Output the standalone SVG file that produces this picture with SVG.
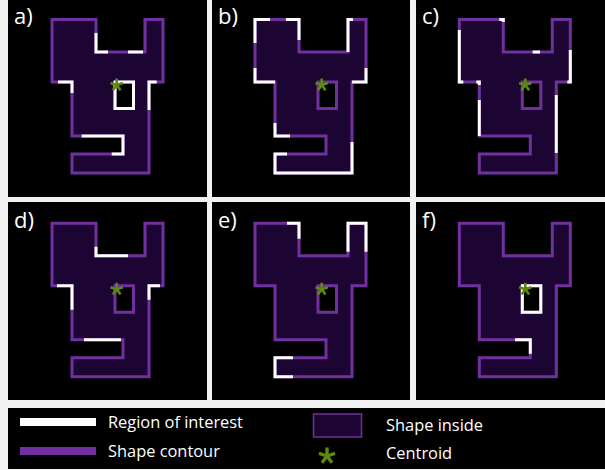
<svg xmlns="http://www.w3.org/2000/svg" xmlns:xlink="http://www.w3.org/1999/xlink" width="605" height="470" viewBox="0 0 605 470">
<style>
.bg{fill:#f2f2f2}
.panel{fill:#000}
.shape{fill:#1d0533;stroke:#7030a0;stroke-width:3;stroke-linejoin:miter}
.roi{fill:none;stroke:#fff;stroke-width:3;stroke-linejoin:miter}
.star{fill:none;stroke:#5c8a0e;stroke-width:2.6}
.lbl{fill:#fff;font-family:"Open Sans","Liberation Sans",sans-serif;font-size:22px}
.leg{fill:#fff;font-family:"Open Sans","Liberation Sans",sans-serif;font-size:16.4px}
</style>
<defs>
<path id="yshape" fill-rule="evenodd" d="M52,19.5 H96 V52 H145 V19.5 H163 V82 H149 V173 H72 V154 H123 V136 H72 V82 H52 Z M115,82 H133.5 V108.5 H115 Z"/>
<path id="star" class="star" d="M0,0 L0,-6.5 M0,0 L6.18,-2.01 M0,0 L-6.18,-2.01 M0,0 L3.82,5.26 M0,0 L-3.82,5.26"/>
<path id="hole" d="M115,82 H133.5 V108.5 H115 Z"/>
</defs>
<rect class="bg" x="0" y="0" width="605" height="470"/>

<g id="panel-a">
<rect class="panel" x="8" y="0" width="199" height="197"/>
<text class="lbl" x="14" y="24">a)</text>
<use href="#yshape" class="shape"/>
<path class="roi" d="M96,33 V52 H108 M128,52 H143 M58,82 H72 V93 M149,110 V82 H156.7 M81.7,136 H123 V154 H111.7"/>
<use href="#hole" class="roi"/>
<use href="#star" x="116.7" y="85"/>
</g>

<g id="panel-b">
<rect class="panel" x="212" y="0" width="198" height="197"/>
<text class="lbl" x="218" y="24">b)</text>
<g transform="translate(203,0)">
<use href="#yshape" class="shape"/>
<path class="roi" d="M52,43 V19.5 H67 M83,19.5 H96 V40 M145,52 V19.5 H150 M163,68 V82 H149 M149,142 V173 H72 V154 H84 M87,136 H72 V123 M52,68 V82 H72"/>
<use href="#star" x="118.7" y="85"/>
</g>
</g>

<g id="panel-c">
<rect class="panel" x="416" y="0" width="189" height="197"/>
<text class="lbl" x="422" y="24">c)</text>
<g transform="translate(407.3,0)">
<use href="#yshape" class="shape"/>
<path class="roi" d="M92,19.5 H96 V22 M125.4,52 H132.7 M163,50 V82 H160 M52,30 V82 H56 M69,82 H72 V85 M72,100 V136 M149,95 V153"/>
<use href="#star" x="118" y="85"/>
</g>
</g>

<g id="panel-d">
<rect class="panel" x="8" y="202" width="199" height="198"/>
<text class="lbl" x="14" y="228">d)</text>
<g transform="translate(0,203.8)">
<use href="#yshape" class="shape"/>
<path class="roi" d="M96,43 V52 H128 M57,82 H72 V106 M149,96 V82 H160 M84,136 H121"/>
<use href="#star" x="116.7" y="85.5"/>
</g>
</g>

<g id="panel-e">
<rect class="panel" x="212" y="202" width="198" height="198"/>
<text class="lbl" x="218" y="228">e)</text>
<g transform="translate(203,203.8)">
<use href="#yshape" class="shape"/>
<path class="roi" d="M84,19.5 H96 V35 M145,48 V19.5 H163 V48 M90,154 H72 V173 H90"/>
<use href="#star" x="118.7" y="85.5"/>
</g>
</g>

<g id="panel-f">
<rect class="panel" x="416" y="202" width="189" height="198"/>
<text class="lbl" x="422" y="228">f)</text>
<g transform="translate(407.3,203.8)">
<use href="#yshape" class="shape"/>
<use href="#hole" class="roi"/>
<path class="roi" d="M107.7,136 H123 V150"/>
<use href="#star" x="118" y="85.5"/>
</g>
</g>

<g id="legend">
<rect class="panel" x="8" y="408" width="597" height="61"/>
<rect x="20" y="418" width="76" height="8" fill="#fff"/>
<text class="leg" x="108" y="428">Region of interest</text>
<rect x="20" y="447" width="76" height="8" fill="#7030a0"/>
<text class="leg" x="108" y="457">Shape contour</text>
<rect x="313.5" y="414" width="48" height="23" fill="#1d0533" stroke="#7030a0" stroke-width="1.5"/>
<text class="leg" x="386" y="431">Shape inside</text>
<use href="#star" transform="translate(327,456) scale(1.3)"/>
<text class="leg" x="386" y="459">Centroid</text>
</g>
</svg>
